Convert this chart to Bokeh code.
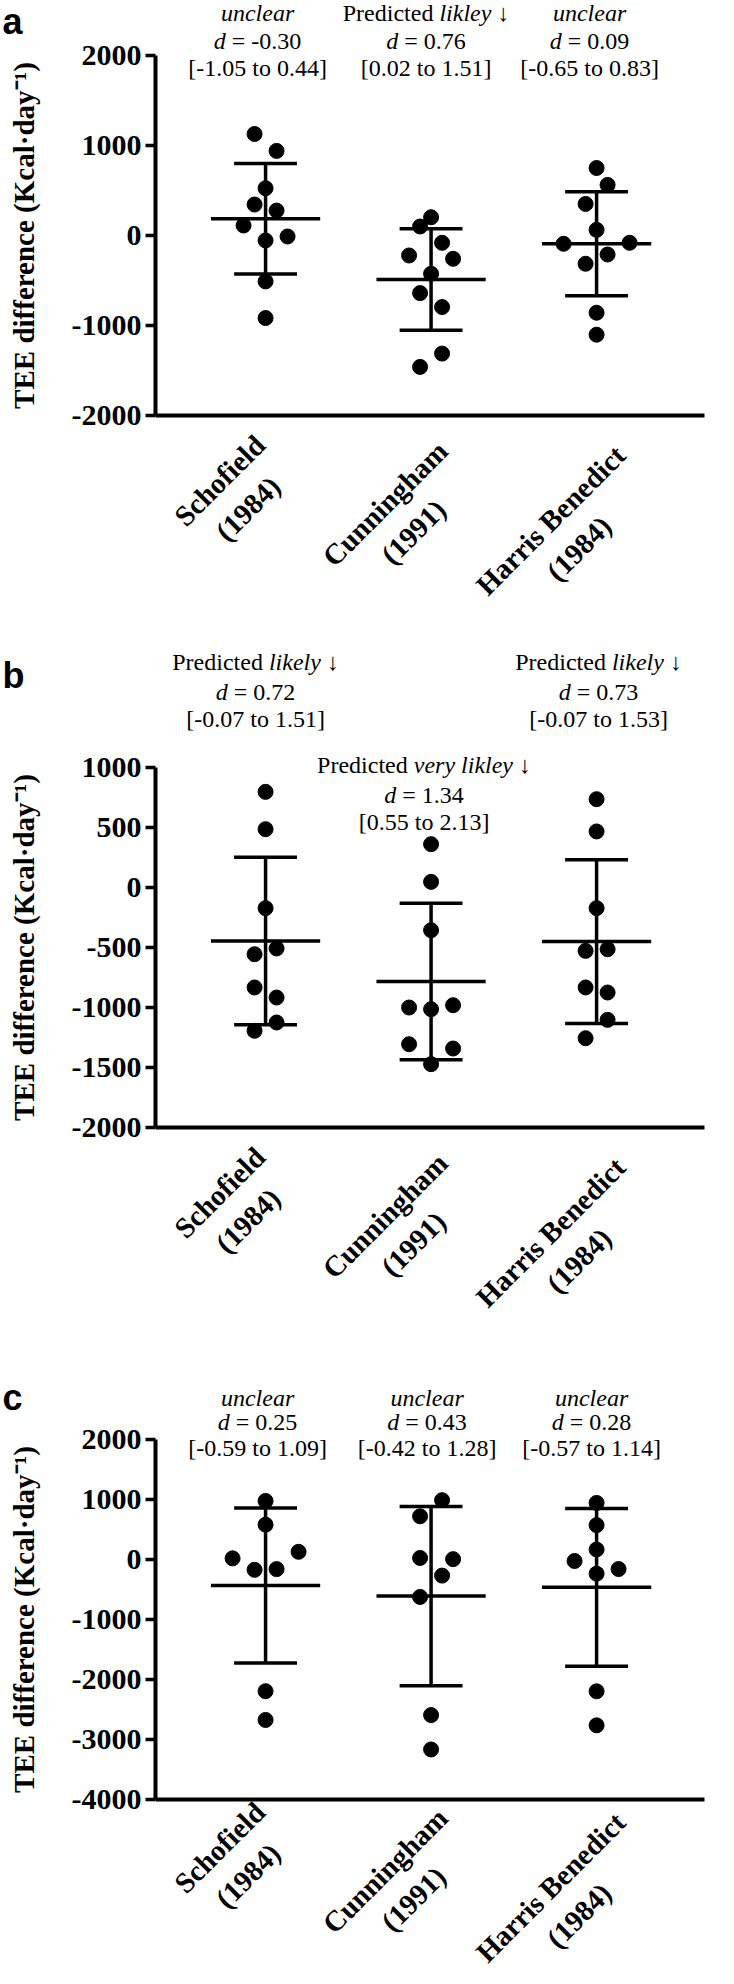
import math
from bokeh.plotting import figure
from bokeh.models import Range1d, FixedTicker, ColumnDataSource
from bokeh.layouts import column
from bokeh.core.properties import value
from bokeh.embed import file_html
from bokeh.resources import INLINE

# ---------------- data ----------------
cat_names = ["Schofield", "Cunningham", "Harris Benedict"]
cat_years = ["(1984)", "(1991)", "(1984)"]
y_title = "TEE difference (Kcal·day⁻¹)"

# panel a
a_ticks = [-2000, -1000, 0, 1000, 2000]
a_tick_labels = ["-2000", "-1000", "0", "1000", "2000"]
a_schofield = [1128, 940, 525, 344, 277, 111, -11, -55, -510, -917]
a_cunningham = [203, 100, -81, -222, -259, -425, -640, -795, -1312, -1460]
a_harris = [750, 562, 351, 63, -92, -81, -211, -314, -858, -1102]
a_mean = [185, -488, -92]
a_sd = [614, 564, 577]
a_verdict = ["*unclear*", "Predicted *likley* ↓", "*unclear*"]
a_d = [-0.30, 0.76, 0.09]
a_ci_lo = [-1.05, 0.02, -0.65]
a_ci_hi = [0.44, 1.51, 0.83]

# panel b
b_ticks = [-2000, -1500, -1000, -500, 0, 500, 1000]
b_tick_labels = ["-2000", "-1500", "-1000", "-500", "0", "500", "1000"]
b_schofield = [797, 486, -172, -508, -556, -833, -917, -1125, -1194]
b_cunningham = [361, 47, -356, -1000, -1014, -981, -1306, -1342, -1472]
b_harris = [736, 467, -172, -528, -514, -833, -875, -1103, -1256]
b_mean = [-446, -784, -451]
b_sd = [698, 652, 682]
b_verdict = ["Predicted *likely* ↓", "Predicted *very likley* ↓", "Predicted *likely* ↓"]
b_d = [0.72, 1.34, 0.73]
b_ci_lo = [-0.07, 0.55, -0.07]
b_ci_hi = [1.51, 2.13, 1.53]

# panel c
c_ticks = [-4000, -3000, -2000, -1000, 0, 1000, 2000]
c_tick_labels = ["-4000", "-3000", "-2000", "-1000", "0", "1000", "2000"]
c_schofield = [976, 581, 19, 128, -172, -160, -2195, -2674]
c_cunningham = [989, 720, 26, 6, -268, -624, -2593, -3166]
c_harris = [943, 573, 166, -25, -159, -236, -2197, -2764]
c_mean = [-435, -610, -464]
c_sd = [1292, 1494, 1315]
c_verdict = ["*unclear*", "*unclear*", "*unclear*"]
c_d = [0.25, 0.43, 0.28]
c_ci_lo = [-0.59, -0.42, -0.57]
c_ci_hi = [1.09, 1.28, 1.14]

# horizontal scatter column of each point (layout, in dot steps)
a_cols = [[-1, 1, 0, -1, 1, -2, 2, 0, 0, 0],
          [0, -1, 1, -2, 2, 0, -1, 1, 1, -1],
          [0, 1, -1, 0, -3, 3, 1, -1, 0, 0]]
b_cols = [[0, 0, 0, 1, -1, -1, 1, 1, -1],
          [0, 0, 0, -2, 0, 2, -2, 2, 0],
          [0, 0, 0, -1, 1, -1, 1, 1, -1]]
c_cols = [[0, 0, -3, 3, -1, 1, 0, 0],
          [1, -1, -1, 2, 1, -1, 0, 0],
          [0, 0, 0, -2, 2, 0, 0, 0]]

# ---------------- layout / style ----------------
SERIF = "Liberation Serif"
SANS = "Liberation Sans"
FIG_W = 718
PAGE_L = 8
AXIS_PAGE_X = 163        # y axis position on the page
AXIS_END_PAGE_X = 712    # right end of x axis
X0, X1 = -0.665, 2.652   # data x at y-axis and at x-axis end
PX_X = (AXIS_END_PAGE_X - AXIS_PAGE_X) / (X1 - X0)
XA = X0 - (AXIS_PAGE_X - PAGE_L) / PX_X
XB = X0 + (PAGE_L + FIG_W - AXIS_PAGE_X) / PX_X
STEP = 11 / PX_X
ANN_FS = 24
CAT_FS = 29
CAT_LINE = 40
TICK_FS = 30
YLAB_FS = 29
NB = "\u00a0"

REG = {' ': 250, NB: 250, 'P': 556, 'r': 333, 'e': 444, 'd': 500, 'i': 278, 'c': 444,
       't': 278, 'o': 500, '.': 250, '-': 333, '[': 333, ']': 333, '=': 564, '↓': 500}
for ch in "0123456789":
    REG[ch] = 500
ITA = {'u': 500, 'n': 500, 'c': 444, 'l': 278, 'e': 444, 'a': 500, 'r': 389, 'i': 278,
       'k': 444, 'y': 444, 'v': 444, ' ': 250, NB: 250, 'd': 500}
BOLD = {'S': 556, 'c': 444, 'h': 556, 'o': 500, 'f': 333, 'i': 278, 'e': 444, 'l': 278,
        'd': 556, 'C': 722, 'u': 556, 'n': 556, 'g': 500, 'a': 500, 'm': 833, 'H': 778,
        'r': 444, 's': 389, ' ': 250, 'B': 667, 't': 333, '(': 333, ')': 333}
for ch in "0123456789":
    BOLD[ch] = 500


def tw(s, table, fs):
    return sum(table.get(ch, 500) for ch in s) * fs / 1000.0


def nbsp_edges(s):
    n_lead = len(s) - len(s.lstrip(" "))
    n_trail = len(s) - len(s.rstrip(" "))
    core = s.strip(" ")
    return NB * n_lead + core + NB * n_trail


def parse(markup):
    parts = markup.split("*")
    return [(nbsp_edges(t), k % 2 == 1) for k, t in enumerate(parts) if t]


def build(letter, letter_base_page, fig_top_page, fig_h, ticks, tick_labels,
          top_tick_page, bot_tick_page, series, cols, means, sds, verdicts,
          dvals, lo, hi, ann_offsets, ann_dx, cat_dy):
    ppu = (bot_tick_page - top_tick_page) / float(ticks[-1] - ticks[0])
    y_end = ticks[-1] + (top_tick_page - fig_top_page) / ppu
    y_bot = ticks[0] - (fig_top_page + fig_h - bot_tick_page) / ppu
    p = figure(width=FIG_W, height=fig_h, x_range=Range1d(XA, XB),
               y_range=Range1d(y_bot, y_end), output_backend="svg",
               toolbar_location=None, title=None,
               min_border_left=0, min_border_right=0, min_border_top=0,
               min_border_bottom=0)
    p.outline_line_color = None
    p.xgrid.visible = False
    p.ygrid.visible = False
    p.background_fill_color = "white"
    p.border_fill_color = "white"

    ya = p.yaxis[0]
    ya.fixed_location = X0
    ya.ticker = FixedTicker(ticks=ticks)
    ya.bounds = (ticks[0], ticks[-1])
    ya.major_label_overrides = {t: l for t, l in zip(ticks, tick_labels)}
    ya.major_label_text_font = SERIF
    ya.major_label_text_font_style = "bold"
    ya.major_label_text_font_size = f"{TICK_FS}px"
    ya.major_label_text_color = "black"
    ya.axis_line_width = 4
    ya.axis_line_color = "black"
    ya.major_tick_line_width = 3.5
    ya.major_tick_line_color = "black"
    ya.major_tick_out = 10
    ya.major_tick_in = 0
    ya.minor_tick_line_color = None
    ya.major_label_standoff = 4

    xa = p.xaxis[0]
    xa.fixed_location = ticks[0]
    xa.bounds = (X0, X1)
    xa.ticker = FixedTicker(ticks=[])
    xa.axis_line_width = 4
    xa.axis_line_color = "black"
    xa.major_tick_line_color = None
    xa.minor_tick_line_color = None
    xa.major_label_text_font_size = "0px"

    # points
    xs, ys = [], []
    for i, (vals, cc) in enumerate(zip(series, cols)):
        for v, c in zip(vals, cc):
            xs.append(i + c * STEP)
            ys.append(v)
    p.scatter(xs, ys, size=15, fill_color="black", line_color="black")

    # mean and SD
    idx = list(range(len(means)))
    p.segment([i - 0.33 for i in idx], means, [i + 0.33 for i in idx], means,
              line_width=3.5, line_color="black")
    p.segment(idx, [m - s for m, s in zip(means, sds)], idx,
              [m + s for m, s in zip(means, sds)], line_width=3.5, line_color="black")
    for sign in (1, -1):
        yy = [m + sign * s for m, s in zip(means, sds)]
        p.segment([i - 0.19 for i in idx], yy, [i + 0.19 for i in idx], yy,
                  line_width=3.5, line_color="black")

    # annotations above each group
    norm = dict(x=[], y=[], xo=[], text=[])
    ital = dict(x=[], y=[], xo=[], text=[])
    for i in idx:
        lines = [parse(verdicts[i]),
                 [("d", True), (nbsp_edges(f" = {dvals[i]:.2f}"), False)],
                 [(f"[{lo[i]:.2f} to {hi[i]:.2f}]", False)]]
        for k, pieces in enumerate(lines):
            widths = [tw(t, ITA if it else REG, ANN_FS) for t, it in pieces]
            start = -sum(widths) / 2.0 + ann_dx[i]
            yv = ticks[-1] - ann_offsets[i][k] / ppu
            for (t, it), w in zip(pieces, widths):
                dst = ital if it else norm
                dst["x"].append(i)
                dst["y"].append(yv)
                dst["xo"].append(start)
                dst["text"].append(t)
                start += w
    for d, style in ((norm, "normal"), (ital, "italic")):
        p.text(x="x", y="y", text="text", x_offset="xo", source=ColumnDataSource(d),
               text_font=value(SERIF), text_font_style=value(style),
               text_font_size=value(f"{ANN_FS}px"), text_align=value("left"),
               text_baseline=value("middle"), text_color="black")

    # category labels (rotated 45 degrees, two centred lines)
    r2 = math.sqrt(0.5)
    cat = dict(x=[], y=[], text=[])
    for i in idx:
        W = tw(cat_names[i], BOLD, CAT_FS)
        cx0 = -46.0                       # px right of the group centre
        cy0 = 10.0 + 0.48 * W + cat_dy    # px below the x axis
        for k, s in enumerate([cat_names[i], cat_years[i]]):
            sx = cx0 + k * CAT_LINE * r2
            sy = cy0 + k * CAT_LINE * r2
            cat["x"].append(i + sx / PX_X)
            cat["y"].append(ticks[0] - sy / ppu)
            cat["text"].append(s)
    p.text(x="x", y="y", text="text", source=ColumnDataSource(cat), angle=math.pi / 4,
           text_font=value(SERIF), text_font_style=value("bold"),
           text_font_size=value(f"{CAT_FS}px"), text_align=value("center"),
           text_baseline=value("middle"), text_color="black")

    # y axis title
    p.text(x=[X0 + (31 - AXIS_PAGE_X) / PX_X], y=[(ticks[0] + ticks[-1]) / 2.0],
           text=[y_title], angle=math.pi / 2, text_font=value(SERIF),
           text_font_style=value("bold"), text_font_size=value(f"{YLAB_FS}px"),
           text_align=value("center"), text_baseline=value("middle"), text_color="black")

    # panel letter
    p.text(x=[X0 + (10 - AXIS_PAGE_X) / PX_X],
           y=[ticks[-1] + (top_tick_page - letter_base_page) / ppu], text=[letter],
           text_font=value(SANS), text_font_style=value("bold"),
           text_font_size=value("36px"), text_align=value("left"),
           text_baseline=value("alphabetic"), text_color="black")
    return p


pa = build("a", 29, 8, 632, a_ticks, a_tick_labels, 63, 423,
           [a_schofield, a_cunningham, a_harris], a_cols, a_mean, a_sd, a_verdict,
           a_d, a_ci_lo, a_ci_hi,
           [[-43, -15, 12], [-43, -15, 12], [-43, -15, 12]], [-8, -5, -7], 0)
pb = build("b", 683, 640, 730, b_ticks, b_tick_labels, 775, 1135,
           [b_schofield, b_cunningham, b_harris], b_cols, b_mean, b_sd, b_verdict,
           b_d, b_ci_lo, b_ci_hi,
           [[-106, -76, -49], [-3, 27, 54], [-106, -76, -49]], [-10, -7, 2], 0)
pc = build("c", 1405, 1370, 606, c_ticks, c_tick_labels, 1447, 1807,
           [c_schofield, c_cunningham, c_harris], c_cols, c_mean, c_sd, c_verdict,
           c_d, c_ci_lo, c_ci_hi,
           [[-42, -18, 8], [-42, -18, 8], [-42, -18, 8]], [-8, -4, -5], -17)

layout = column(pa, pb, pc)
open("out.html", "w").write(file_html(layout, INLINE, "TEE difference"))
